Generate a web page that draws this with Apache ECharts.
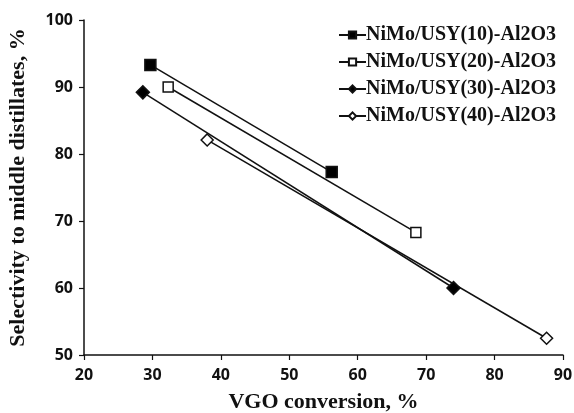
<!DOCTYPE html>
<html><head><meta charset="utf-8">
<script src="https://cdn.jsdelivr.net/npm/echarts@6/dist/echarts.min.js"></script>
<style>html,body{margin:0;padding:0;background:#fff}#c{width:574px;height:413px}</style>
</head><body><div id="c"></div>
<script>
const seriesNames = ['NiMo/USY(10)-Al2O3','NiMo/USY(20)-Al2O3','NiMo/USY(30)-Al2O3','NiMo/USY(40)-Al2O3'];
const conv10 = [29.7, 56.2];
const sel10 = [93.3, 77.3];
const conv20 = [32.3, 68.5];
const sel20 = [90.0, 68.3];
const conv30 = [28.6, 74.0];
const sel30 = [89.2, 60.0];
const conv40 = [38.0, 87.6];
const sel40 = [82.1, 52.5];
const xTicks = [20,30,40,50,60,70,80,90];
const yTicks = [50,60,70,80,90,100];

const pairs = (xs, ys) => xs.map((x,i)=>[x, ys[i]]);
const styles = [
  {symbol:'rect', size:11, fill:'#000'},
  {symbol:'rect', size:10, fill:'#fff'},
  {symbol:'diamond', size:13, fill:'#000'},
  {symbol:'diamond', size:12, fill:'#fff'}
];
const datas = [pairs(conv10,sel10), pairs(conv20,sel20), pairs(conv30,sel30), pairs(conv40,sel40)];
const chart = echarts.init(document.getElementById('c'));
chart.setOption({
  animation:false,
  grid:{left:84, right:11, top:20, bottom:58, containLabel:false, outerBoundsMode:'none'},
  legend:{
    orient:'vertical', right:13, top:20, itemGap:7, itemWidth:27, itemHeight:9,
    textStyle:{fontFamily:'Liberation Serif', fontWeight:'bold', fontSize:20, color:'#111', padding:[0,0,0,-5]},
    data:seriesNames
  },
  xAxis:{
    type:'value', min:20, max:90, interval:10,
    axisLine:{lineStyle:{color:'#111', width:1.5}},
    axisTick:{show:true, length:5, lineStyle:{color:'#111', width:1.2}},
    splitLine:{show:false},
    axisLabel:{fontFamily:'Open Sans', fontWeight:'bold', fontSize:16, color:'#111', margin:12,
      formatter:v=>xTicks.includes(v)?String(v):''},
    name:'VGO conversion, %', nameLocation:'middle', nameGap:36,
    nameTextStyle:{fontFamily:'Liberation Serif', fontWeight:'bold', fontSize:22, color:'#111'}
  },
  yAxis:{
    type:'value', min:50, max:100, interval:10,
    axisLine:{show:true, lineStyle:{color:'#111', width:1.5}},
    axisTick:{show:true, length:5, lineStyle:{color:'#111', width:1.2}},
    splitLine:{show:false},
    axisLabel:{fontFamily:'Open Sans', fontWeight:'bold', fontSize:16, color:'#111', margin:11,
      formatter:v=>yTicks.includes(v)?String(v):''},
    name:'Selectivity to middle distillates, %', nameLocation:'middle', nameGap:55,
    nameTextStyle:{fontFamily:'Liberation Serif', fontWeight:'bold', fontSize:22, color:'#111'}
  },
  series: datas.map((d,i)=>({
    name:seriesNames[i], type:'line', data:d,
    symbol:styles[i].symbol, symbolSize:styles[i].size,
    lineStyle:{color:'#111', width:1.5},
    itemStyle:{color:styles[i].fill, borderColor:'#111', borderWidth:1.5},
    z: 2
  }))
});
</script></body></html>
